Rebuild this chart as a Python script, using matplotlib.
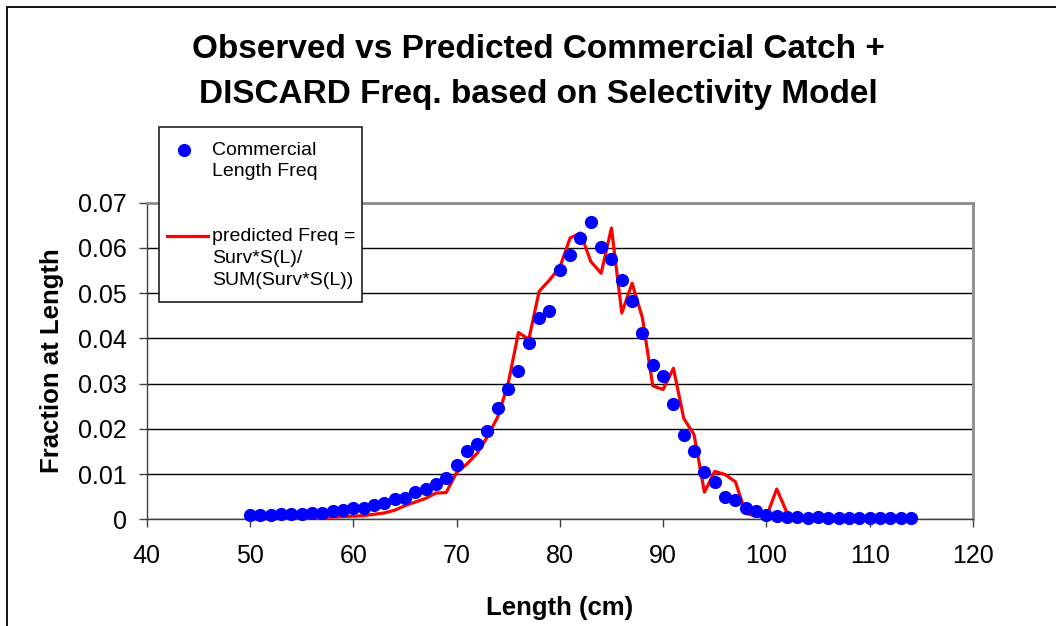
import numpy as np
import matplotlib
matplotlib.use("Agg")
import matplotlib.pyplot as plt
from matplotlib.patches import Rectangle
from matplotlib.lines import Line2D

plt.rcParams['font.family'] = ['Liberation Sans', 'DejaVu Sans']

# Length classes (cm)
lengths = np.arange(50, 115)

# Observed commercial length frequency
observed = [0.0010, 0.0009, 0.0010, 0.0011, 0.0012, 0.0012, 0.0013, 0.0015, 0.0018, 0.0020,
            0.0024, 0.0026, 0.0031, 0.0035, 0.0044, 0.0046, 0.0060, 0.0066, 0.0078, 0.0091,
            0.0120, 0.0152, 0.0166, 0.0195, 0.0247, 0.0288, 0.0327, 0.0389, 0.0445, 0.0461,
            0.0552, 0.0585, 0.0622, 0.0658, 0.0601, 0.0576, 0.0529, 0.0483, 0.0411, 0.0341,
            0.0317, 0.0254, 0.0187, 0.0150, 0.0104, 0.0082, 0.0049, 0.0043, 0.0024, 0.0019,
            0.0010, 0.0008, 0.0005, 0.0004, 0.0003, 0.0004, 0.0003, 0.0003, 0.0002, 0.0002,
            0.0002, 0.0002, 0.0002, 0.0002, 0.0002]

# Predicted freq = Surv*S(L)/SUM(Surv*S(L))
predicted = [0.0001, 0.0001, 0.0001, 0.0002, 0.0002, 0.0003, 0.0003, 0.0004, 0.0005, 0.0006,
             0.0007, 0.0008, 0.0011, 0.0014, 0.0020, 0.0030, 0.0038, 0.0046, 0.0058, 0.0059,
             0.0103, 0.0122, 0.0146, 0.0183, 0.0227, 0.0300, 0.0413, 0.0398, 0.0504, 0.0529,
             0.0557, 0.0622, 0.0633, 0.0570, 0.0544, 0.0644, 0.0456, 0.0522, 0.0445, 0.0295,
             0.0287, 0.0334, 0.0223, 0.0187, 0.0060, 0.0106, 0.0099, 0.0083, 0.0013, 0.0007,
             0.0006, 0.0067, 0.0014, 0.0003, 0.0002, 0.0002, 0.0001, 0.0001, 0.0001, 0.0001,
             0.0001, 0.0001, 0.0001, 0.0001, 0.0001]

W, H = 1056, 626
fig = plt.figure(figsize=(W / 100, H / 100), dpi=100)
ax = fig.add_axes([146.6 / W, 1 - 519.3 / H, (973 - 146.6) / W, (519.3 - 202.7) / H])

ax.plot(lengths, predicted, color='#FF0000', lw=2.3, zorder=3, clip_on=False)
ax.plot(lengths, observed, 'o', color='#0000FF', markersize=9.5, markeredgewidth=0,
        zorder=4, clip_on=False)

ax.set_xlim(40, 120)
ax.set_ylim(0, 0.07)
ax.set_xticks(np.arange(40, 121, 10))
ax.set_yticks(np.arange(0, 0.071, 0.01))
ax.set_yticklabels(['0', '0.01', '0.02', '0.03', '0.04', '0.05', '0.06', '0.07'])
ax.yaxis.grid(True, color='black', lw=1.0)
ax.set_axisbelow(True)
ax.tick_params(labelsize=18, length=6, width=1, color='#404040')
ax.tick_params(axis='x', pad=12)
ax.tick_params(axis='y', pad=8)

for s in ['top', 'right']:
    ax.spines[s].set_color('#8c8c8c')
    ax.spines[s].set_linewidth(2)
for s in ['left', 'bottom']:
    ax.spines[s].set_color('#404040')
    ax.spines[s].set_linewidth(1)

ax.set_xlabel('Length (cm)', fontsize=18.5, fontweight='bold', labelpad=20)
ax.set_ylabel('Fraction at Length', fontsize=18.5, fontweight='bold', labelpad=10)

fig.text(538 / W, 1 - 72 / H, 'Observed vs Predicted Commercial Catch +\nDISCARD Freq. based on Selectivity Model',
         ha='center', va='center', fontsize=24, fontweight='bold', linespacing=1.55)

# Legend drawn by hand (handles aligned with first line of each label)
def fx(px):
    return px / W

def fy(py):
    return 1 - py / H

fig.add_artist(Rectangle((fx(159), fy(302)), fx(362) - fx(159), fy(127) - fy(302),
                         transform=fig.transFigure, facecolor='white', edgecolor='#202020',
                         lw=1.2, zorder=5))
fig.add_artist(Line2D([fx(184)], [fy(150)], marker='o', color='#0000FF', markersize=9.5,
                      markeredgewidth=0, transform=fig.transFigure, zorder=6))
fig.add_artist(Line2D([fx(167), fx(208)], [fy(236), fy(236)], color='#FF0000', lw=2.3,
                      transform=fig.transFigure, zorder=6))
fig.text(fx(212), fy(142), 'Commercial\nLength Freq', fontsize=14, va='top', ha='left',
         linespacing=1.3, zorder=6)
fig.text(fx(212), fy(228), 'predicted Freq =\nSurv*S(L)/\nSUM(Surv*S(L))', fontsize=14,
         va='top', ha='left', linespacing=1.38, zorder=6)

# outer chart frame
fig.add_artist(Rectangle((fx(7), -0.1), 1.2, fy(7) + 0.1, transform=fig.transFigure,
                         fill=False, edgecolor='black', lw=1.3, clip_on=False))

fig.savefig('out.png', dpi=100)
